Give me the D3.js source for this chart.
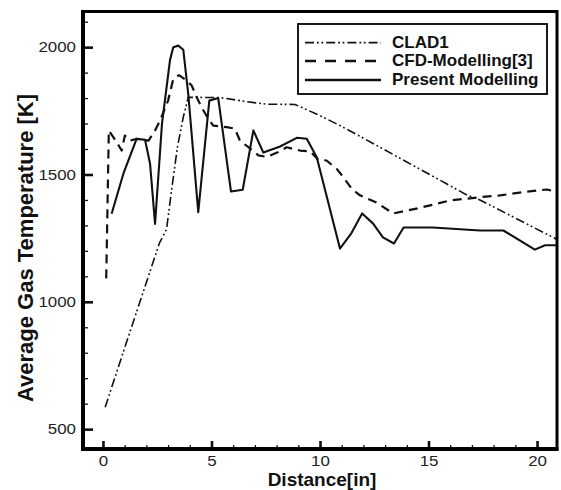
<!DOCTYPE html>
<html>
<head>
<meta charset="utf-8">
<script src="https://cdn.jsdelivr.net/npm/d3@7/dist/d3.min.js"></script>
<style>
  html, body { margin: 0; padding: 0; background: #fff; }
  svg { display: block; font-family: "Liberation Sans", Arial, sans-serif; }
  .tick text { fill: #222; }
</style>
</head>
<body>
<svg id="chart" width="561" height="490"></svg>
<script>
// Axis ticks
const xMajorTicks = [0, 5, 10, 15, 20];
const xMinorTicks = d3.range(0, 21, 1);
const yMajorTicks = [500, 1000, 1500, 2000];
const yMinorTicks = d3.range(500, 2101, 100);

// CLAD1 predictions: distance [in], temperature [K]
const clad1X = [0.1, 1.1, 2.6, 2.93, 3.16, 3.43, 3.7, 3.93, 5.39, 6.62, 7.54, 8.85, 10.0, 10.92, 11.84, 14.45, 16.8, 17.37, 20.9];
const clad1Y = [586, 845, 1230, 1285, 1437, 1607, 1725, 1803, 1802, 1786, 1776, 1775, 1731, 1692, 1650, 1528, 1418, 1400, 1246];

// CFD-Modelling[3]
const cfdX = [0.15, 0.27, 0.63, 0.86, 1.01, 1.24, 1.55, 2.1, 2.4, 2.63, 3.0, 3.24, 3.5, 3.86, 4.09, 4.32, 4.55, 4.86, 5.08, 5.7, 6.08, 6.31, 6.7, 7.16, 7.54, 8.08, 8.46, 9.08, 9.54, 9.92, 10.3, 10.77, 11.07, 11.46, 11.84, 12.6, 13.37, 14.5, 16.0, 17.5, 18.3, 19.37, 20.45, 20.92];
const cfdY = [1092, 1673, 1627, 1594, 1653, 1633, 1640, 1633, 1673, 1712, 1790, 1875, 1890, 1869, 1849, 1803, 1763, 1718, 1692, 1686, 1680, 1633, 1607, 1575, 1569, 1588, 1607, 1594, 1591, 1558, 1555, 1522, 1490, 1444, 1418, 1390, 1347, 1367, 1398, 1412, 1418, 1431, 1441, 1431];

// Present Modelling
const presentX = [0.4, 0.94, 1.55, 1.94, 2.17, 2.4, 2.72, 3.09, 3.24, 3.47, 3.7, 3.93, 4.39, 4.9, 5.31, 5.9, 6.44, 6.93, 7.39, 8.16, 8.93, 9.39, 9.85, 10.92, 11.45, 11.94, 12.44, 12.9, 13.41, 13.85, 15.2, 17.37, 18.45, 19.9, 20.37, 20.92];
const presentY = [1346, 1503, 1640, 1636, 1542, 1306, 1700, 1950, 2000, 2006, 1990, 1816, 1352, 1790, 1800, 1433, 1440, 1673, 1586, 1610, 1644, 1640, 1568, 1209, 1270, 1347, 1308, 1253, 1229, 1292, 1292, 1280, 1280, 1205, 1222, 1222];

const seriesNames = ["CLAD1", "CFD-Modelling[3]", "Present Modelling"];

const svg = d3.select("#chart");
const plotLeft = 83, plotRight = 557, plotTop = 11.5, plotBottom = 449;

const x = d3.scaleLinear().domain([-0.92, 20.92]).range([plotLeft, plotRight]);
const y = d3.scaleLinear().domain([422, 2140]).range([plotBottom, plotTop]);

// Clip for curves
svg.append("clipPath").attr("id", "plotClip")
  .append("rect").attr("x", plotLeft).attr("y", plotTop)
  .attr("width", plotRight - plotLeft).attr("height", plotBottom - plotTop);

// Minor ticks (inward)
svg.append("g").attr("transform", `translate(${plotLeft},0)`)
  .call(d3.axisLeft(y).tickValues(yMinorTicks).tickSize(-5).tickFormat(""))
  .call(g => g.select(".domain").remove())
  .call(g => g.selectAll("line").attr("stroke", "#111").attr("stroke-width", 1.3));
svg.append("g").attr("transform", `translate(0,${plotBottom})`)
  .call(d3.axisBottom(x).tickValues(xMinorTicks).tickSize(-4).tickFormat(""))
  .call(g => g.select(".domain").remove())
  .call(g => g.selectAll("line").attr("stroke", "#111").attr("stroke-width", 1.3));

// Tick labels are slightly wide in this style: stretch each glyph a little
const widenLabels = g => g.selectAll("text")
  .attr("font-size", 15)
  .attr("font-family", "Liberation Sans, Arial, sans-serif")
  .attr("lengthAdjust", "spacingAndGlyphs")
  .attr("textLength", function () { return this.textContent.length * 9.4; });

// Major ticks with labels
svg.append("g").attr("transform", `translate(${plotLeft},0)`)
  .call(d3.axisLeft(y).tickValues(yMajorTicks).tickSize(-10).tickPadding(7).tickFormat(d3.format("d")))
  .call(g => g.select(".domain").remove())
  .call(g => g.selectAll("line").attr("stroke", "#111").attr("stroke-width", 2.6))
  .call(widenLabels);
svg.append("g").attr("transform", `translate(0,${plotBottom})`)
  .call(d3.axisBottom(x).tickValues(xMajorTicks).tickSize(-8).tickPadding(6).tickFormat(d3.format("d")))
  .call(g => g.select(".domain").remove())
  .call(g => g.selectAll("line").attr("stroke", "#111").attr("stroke-width", 2.6))
  .call(widenLabels);

// Curves
const line = d3.line().x(d => x(d[0])).y(d => y(d[1]));
const curves = [
  { xs: clad1X, ys: clad1Y, dash: "9,3,1.8,2.6,1.8,3", width: 1.6 },
  { xs: cfdX, ys: cfdY, dash: "9,6", width: 2.2 },
  { xs: presentX, ys: presentY, dash: null, width: 2.1 }
];
const plot = svg.append("g").attr("clip-path", "url(#plotClip)");
curves.forEach(c => {
  plot.append("path")
    .datum(c.xs.map((v, i) => [v, c.ys[i]]))
    .attr("d", line)
    .attr("fill", "none")
    .attr("stroke", "#111")
    .attr("stroke-width", c.width)
    .attr("stroke-linejoin", "round")
    .attr("stroke-dasharray", c.dash);
});

// Frame
svg.append("rect")
  .attr("x", plotLeft).attr("y", plotTop)
  .attr("width", plotRight - plotLeft).attr("height", plotBottom - plotTop)
  .attr("fill", "none").attr("stroke", "#000").attr("stroke-width", 3);
svg.append("line").attr("x1", plotLeft).attr("x2", plotLeft).attr("y1", plotTop - 1.5).attr("y2", plotBottom + 2)
  .attr("stroke", "#000").attr("stroke-width", 4);
svg.append("line").attr("x1", plotLeft - 2).attr("x2", plotRight + 1.5).attr("y1", plotBottom).attr("y2", plotBottom)
  .attr("stroke", "#000").attr("stroke-width", 4);

// Legend
const legend = svg.append("g");
legend.append("rect").attr("x", 298).attr("y", 24).attr("width", 249).attr("height", 70)
  .attr("fill", "#fff").attr("stroke", "#000").attr("stroke-width", 1.8);
const legendRows = [42.7, 61, 80];
const textBase = [47.5, 66, 84.5];
curves.forEach((c, i) => {
  legend.append("line")
    .attr("x1", 305).attr("x2", 381)
    .attr("y1", legendRows[i]).attr("y2", legendRows[i])
    .attr("stroke", "#111").attr("stroke-width", c.width + 0.2)
    .attr("stroke-dasharray", i === 1 ? "11,9" : c.dash);
  legend.append("text")
    .attr("x", 392).attr("y", textBase[i])
    .attr("font-size", 17).attr("font-weight", "bold").attr("fill", "#111")
    .text(seriesNames[i]);
});

// Axis titles
svg.append("text")
  .attr("x", 322).attr("y", 485.5)
  .attr("text-anchor", "middle")
  .attr("font-size", 19).attr("font-weight", "bold").attr("fill", "#111")
  .text("Distance[in]");
svg.append("text")
  .attr("transform", "translate(33,248) rotate(-90)")
  .attr("text-anchor", "middle")
  .attr("font-size", 22).attr("font-weight", "bold").attr("fill", "#111")
  .text("Average Gas Temperature [K]");
</script>
</body>
</html>
